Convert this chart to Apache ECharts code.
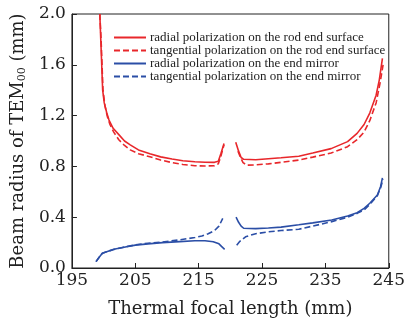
<!DOCTYPE html>
<html>
<head>
<meta charset="utf-8">
<script src="https://cdn.jsdelivr.net/npm/echarts@6/dist/echarts.min.js"></script>
<style>
  html, body { margin: 0; padding: 0; background: #fff; }
  #chart { width: 408px; height: 323px; }
</style>
</head>
<body>
<div id="chart"></div>
<script>
// curve points [thermal focal length (mm), beam radius (mm)]
const redSolidLeft = [[199.4, 2.0], [199.55, 1.8], [199.7, 1.6], [199.85, 1.4], [200.1, 1.3], [200.5, 1.22], [200.85, 1.165], [201.5, 1.1], [202.4, 1.05], [203.3, 1.0], [204.2, 0.97], [205.5, 0.93], [207.3, 0.9], [209, 0.875], [210.8, 0.858], [212.5, 0.845], [214.4, 0.837], [216, 0.833], [217.5, 0.832], [218.1, 0.84], [218.5, 0.9], [219.0, 0.98]];
const redSolidRight = [[220.85, 0.99], [221.3, 0.92], [221.7, 0.87], [222.1, 0.856], [224, 0.852], [226, 0.86], [228, 0.868], [230.8, 0.88], [233, 0.905], [235.9, 0.94], [238.5, 0.995], [240, 1.06], [241.1, 1.13], [242, 1.22], [243, 1.36], [243.5, 1.48], [244, 1.65]];
const redDashLeft = [[199.4, 2.0], [199.6, 1.8], [199.75, 1.6], [199.9, 1.4], [200.2, 1.28], [200.6, 1.19], [201.0, 1.13], [201.6, 1.07], [202.4, 1.01], [203.3, 0.965], [204.2, 0.93], [205.5, 0.9], [207.3, 0.876], [209, 0.85], [210.8, 0.83], [212.5, 0.815], [214.4, 0.805], [216, 0.803], [217.5, 0.805], [218.1, 0.82], [218.5, 0.88], [219.0, 0.97]];
const redDashRight = [[221.2, 0.92], [221.6, 0.87], [222.0, 0.83], [222.6, 0.81], [224, 0.812], [226, 0.82], [228, 0.832], [230.8, 0.85], [233, 0.873], [235.9, 0.905], [238.5, 0.955], [240, 1.01], [241.1, 1.07], [242, 1.16], [243, 1.3], [243.6, 1.45], [244.1, 1.6]];
const blueSolidLeft = [[198.8, 0.05], [199.3, 0.085], [199.8, 0.116], [200.6, 0.13], [201.6, 0.147], [203, 0.162], [205, 0.18], [207, 0.19], [209.3, 0.2], [212, 0.208], [214.4, 0.215], [216, 0.215], [217.3, 0.207], [218.2, 0.19], [218.6, 0.17], [219.1, 0.147]];
const blueSolidRight = [[220.9, 0.4], [221.3, 0.36], [221.7, 0.33], [222.1, 0.313], [224, 0.31], [226, 0.315], [228, 0.322], [230.8, 0.34], [233, 0.355], [236, 0.378], [238.5, 0.41], [240, 0.435], [241.1, 0.47], [242, 0.51], [243.2, 0.575], [243.7, 0.64], [244, 0.71]];
const blueDashLeft = [[198.8, 0.05], [199.3, 0.085], [199.8, 0.116], [200.6, 0.13], [201.6, 0.145], [203, 0.162], [205, 0.182], [207, 0.195], [209.3, 0.205], [212, 0.222], [214.4, 0.24], [215.5, 0.252], [216.5, 0.27], [217.5, 0.295], [218.2, 0.33], [218.8, 0.39]];
const blueDashRight = [[221.0, 0.18], [221.5, 0.21], [222.4, 0.246], [224, 0.27], [226, 0.285], [228, 0.295], [230.8, 0.305], [233, 0.33], [236, 0.365], [238.5, 0.4], [240, 0.43], [241.1, 0.457], [242, 0.5], [243.2, 0.57], [243.7, 0.63], [244.1, 0.7]];

const names = [
  'radial polarization on the rod end surface',
  'tangential polarization on the rod end surface',
  'radial polarization on the end mirror',
  'tangential polarization on the end mirror'
];
const xTicks = [195, 205, 215, 225, 235, 245];
const yTicks = [0.0, 0.4, 0.8, 1.2, 1.6, 2.0];

const RED = '#e8272b';
const BLUE = '#2b4ea6';
const FONT = 'DejaVu Serif';

function withGap(left, right) {
  return left.concat([[220, '-']], right);
}

function curve(name, color, dashed, data) {
  return {
    name: name,
    type: 'line',
    data: data,
    symbol: 'none',
    connectNulls: false,
    lineStyle: { color: color, width: 1.6, type: dashed ? [6, 3] : 'solid' },
    itemStyle: { color: color }
  };
}

let myChart = echarts.init(document.getElementById('chart'));

let option = {
  animation: false,
  grid: {
    left: 67, right: 16, top: 14, bottom: 55,
    show: true, borderColor: '#222', borderWidth: 1
  },
  legend: {
    orient: 'vertical',
    left: 108,
    top: 26,
    itemWidth: 32,
    itemHeight: 12,
    itemGap: 0,
    itemStyle: { color: 'transparent', borderWidth: 0 },
    textStyle: { fontFamily: 'Liberation Serif', fontSize: 13, lineHeight: 12, color: '#222', padding: [0, 0, 0, -1] },
    data: names
  },
  xAxis: {
    type: 'value',
    min: 195,
    max: 245,
    interval: 10,
    name: 'Thermal focal length (mm)',
    nameLocation: 'middle',
    nameGap: 32,
    nameTextStyle: { fontFamily: FONT, fontSize: 18, color: '#222' },
    axisLine: { show: true, onZero: false, lineStyle: { color: '#222', width: 1 } },
    axisTick: { show: true, inside: true, length: 5, lineStyle: { color: '#222' } },
    axisLabel: {
      fontFamily: FONT, fontSize: 17, color: '#222', margin: 4,
      formatter: function (v) { return xTicks.indexOf(v) >= 0 ? String(v) : ''; }
    },
    splitLine: { show: false }
  },
  yAxis: {
    type: 'value',
    min: 0,
    max: 2,
    interval: 0.4,
    name: '{a|Beam radius of TEM}{s|00}{a| (mm)}',
    nameLocation: 'middle',
    nameGap: 40,
    nameTextStyle: {
      rich: {
        a: { fontFamily: FONT, fontSize: 18, color: '#222', lineHeight: 22 },
        s: { fontFamily: FONT, fontSize: 11, color: '#222', lineHeight: 22, padding: [9, 0, 0, 0] }
      }
    },
    axisLine: { show: true, lineStyle: { color: '#222', width: 1 } },
    axisTick: { show: true, inside: true, length: 5, lineStyle: { color: '#222' } },
    axisLabel: {
      fontFamily: FONT, fontSize: 17, color: '#222', margin: 6,
      formatter: function (v) {
        const t = yTicks.find(function (k) { return Math.abs(k - v) < 1e-6; });
        return t === undefined ? '' : t.toFixed(1);
      }
    },
    splitLine: { show: false }
  },
  series: [
    curve(names[0], RED, false, withGap(redSolidLeft, redSolidRight)),
    curve(names[1], RED, true, withGap(redDashLeft, redDashRight)),
    curve(names[2], BLUE, false, withGap(blueSolidLeft, blueSolidRight)),
    curve(names[3], BLUE, true, withGap(blueDashLeft, blueDashRight))
  ]
};

myChart && myChart.setOption(option);
</script>
</body>
</html>
